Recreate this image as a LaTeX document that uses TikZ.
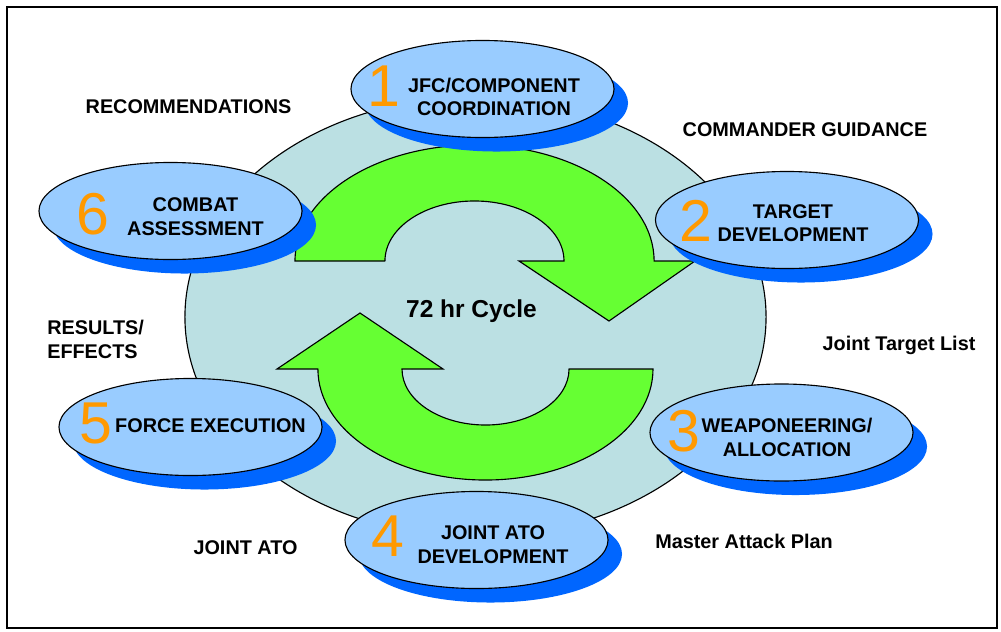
\documentclass[tikz,border=0pt]{standalone}
\usepackage{fontspec}
\setsansfont{Liberation Sans}
\usepackage{tikz}
\usetikzlibrary{shapes.geometric, shadows}
\definecolor{cyclebg}{RGB}{187,224,227}
\definecolor{phasefill}{RGB}{153,204,255}
\definecolor{phaseshade}{RGB}{0,102,255}
\definecolor{arrowgreen}{RGB}{102,255,51}
\definecolor{numorange}{RGB}{255,153,0}
\tikzset{
  lbl/.style = {inner sep=0pt, font=\sffamily\bfseries\fontsize{14.1}{16.8}\selectfont},
  phasetxt/.style = {lbl, align=center},
  phase/.style = {ellipse, draw=black, line width=0.8pt, fill=phasefill,
    minimum width=6.575cm, minimum height=2.425cm,
    drop shadow={shadow xshift=0.35cm, shadow yshift=-0.35cm,
      fill=phaseshade, opacity=1}},
  num/.style = {inner sep=0pt, text=numorange,
    font=\sffamily\fontsize{42}{42}\selectfont},
  turnarrow/.style = {fill=arrowgreen, draw=black, line width=0.8pt}
}

\begin{document}
\begin{tikzpicture}[x=0.025cm, y=-0.025cm]
\useasboundingbox (0,0) rectangle (1001,632);
\draw[line width=1.6pt] (7,7) rectangle (997,628);

% cycle background
\draw[fill=cyclebg, line width=0.8pt] (475.5,317) ellipse [x radius=7.2625cm, y radius=5.5cm];

% the two turning arrows
\draw[turnarrow] (385,261) -- (295,261)
  arc [start angle=180, end angle=0, x radius=4.4875cm, y radius=2.9cm]
  -- (695,261) -- (609,321) -- (519,261) -- (564,261)
  arc [start angle=0, end angle=180, x radius=2.2375cm, y radius=1.5cm] -- cycle;
\draw[turnarrow] (653,369)
  arc [start angle=0, end angle=-180, x radius=4.1875cm, y radius=2.775cm]
  -- (277,369) -- (360,313) -- (443,369) -- (402,369)
  arc [start angle=180, end angle=360, x radius=2.0875cm, y radius=1.4cm] -- cycle;
\node[lbl, anchor=base, font=\sffamily\bfseries\fontsize{17.4}{20}\selectfont] (cyc) at (471.5,317) {72 hr Cycle};

% phases
\node[phase] (p1) at (482.5,89) {};
\node[phase] (p2) at (787,220) {};
\node[phase] (p3) at (781.5,432.5) {};
\node[phase] (p4) at (476.5,540) {};
\node[phase] (p5) at (190.5,427) {};
\node[phase] (p6) at (170.5,211) {};

\node[num] (n1) at (384,86) {1};
\node[num] (n2) at (696,221) {2};
\node[num] (n3) at (683.5,431) {3};
\node[num] (n4) at (388,536.5) {4};
\node[num] (n5) at (96,423.5) {5};
\node[num] (n6) at (93,214) {6};

\node[phasetxt] (t1) at (494,97) {JFC/COMPONENT\\COORDINATION};
\node[phasetxt] (t2) at (793,223) {TARGET\\DEVELOPMENT};
\node[phasetxt] (t3) at (787,437.5) {WEAPONEERING/\\ALLOCATION};
\node[phasetxt] (t4) at (493,544.5) {JOINT ATO\\DEVELOPMENT};
\node[phasetxt] (t5) at (210.5,426) {FORCE EXECUTION};
\node[phasetxt] (t6) at (195.5,216.5) {COMBAT\\ASSESSMENT};

% products between the phases
\node[lbl, anchor=base] (l1) at (188.5,113) {RECOMMENDATIONS};
\node[lbl, anchor=base] (l2) at (805,136) {COMMANDER GUIDANCE};
\node[lbl, anchor=base] (l3) at (899,350) {Joint Target List};
\node[lbl, anchor=base] (l4) at (744,548) {Master Attack Plan};
\node[lbl, anchor=base] (l5) at (245.5,554) {JOINT ATO};
\node[lbl, align=left, anchor=north west] (l6) at (47,320) {RESULTS/\\EFFECTS};
\end{tikzpicture}
\end{document}
